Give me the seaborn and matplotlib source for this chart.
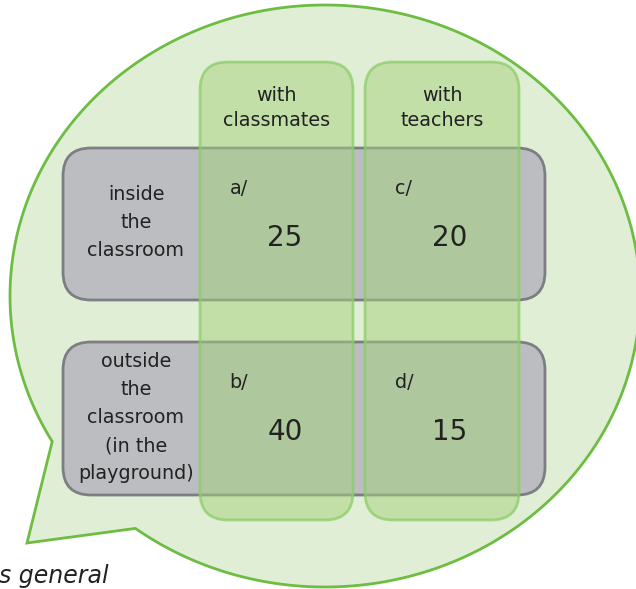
import numpy as np
import matplotlib
matplotlib.use("Agg")
import matplotlib.pyplot as plt
import seaborn as sns
from matplotlib.patches import FancyBboxPatch, Polygon

# data
col_labels = ["with\nclassmates", "with\nteachers"]
row_labels = ["inside\nthe\nclassroom", "outside\nthe\nclassroom\n(in the\nplayground)"]
cell_tags = [["a/", "c/"], ["b/", "d/"]]
cell_values = [[25, 20], [40, 15]]
caption = "s general"

sns.set_theme(style="white")
plt.rcParams["font.family"] = ["DejaVu Sans"]

fig = plt.figure(figsize=(6.36, 5.89), dpi=100)
ax = fig.add_axes([0, 0, 1, 1])
ax.set_xlim(0, 636)
ax.set_ylim(589, 0)
ax.axis("off")

# speech bubble
cx, cy, a, b = 325, 296, 315, 291
theta = np.radians(np.linspace(127, -210, 400))
pts = np.column_stack([cx + a * np.cos(theta), cy + b * np.sin(theta)])
pts = np.vstack([pts, [27, 543]])
ax.add_patch(Polygon(pts, closed=True, facecolor="#e0eed6",
                     edgecolor="#6dbd42", lw=2, zorder=1))

# layout
row_y = [(148, 300), (342, 495)]
col_x = [(200, 353), (365, 519)]
box_left, box_right = 63, 545

for (y0, y1) in row_y:
    ax.add_patch(FancyBboxPatch((box_left, y0), box_right - box_left, y1 - y0,
                                boxstyle="round,pad=0,rounding_size=28",
                                facecolor="#bcbdc1", edgecolor="#7d7e82",
                                lw=2, zorder=2))

for (x0, x1) in col_x:
    ax.add_patch(FancyBboxPatch((x0, 62), x1 - x0, 520 - 62,
                                boxstyle="round,pad=0,rounding_size=28",
                                facecolor=(164 / 255, 210 / 255, 122 / 255, 0.5),
                                edgecolor=(140 / 255, 205 / 255, 105 / 255, 0.75),
                                lw=2, zorder=3))

txt = "#222222"
for j, (x0, x1) in enumerate(col_x):
    ax.text((x0 + x1) / 2, 108, col_labels[j], ha="center", va="center",
            fontsize=13.8, color=txt, linespacing=1.45, zorder=5)

for i, (y0, y1) in enumerate(row_y):
    ax.text(136, (y0 + y1) / 2 - 1, row_labels[i], ha="center", va="center",
            fontsize=13.8, color=txt, linespacing=1.6, zorder=5)
    for j, (x0, x1) in enumerate(col_x):
        ax.text(x0 + 39, y0 + 41, cell_tags[i][j], ha="center", va="center",
                fontsize=13.8, color=txt, zorder=5)
        ax.text(x0 + 85, y0 + 90, str(cell_values[i][j]),
                ha="center", va="center", fontsize=20, color=txt, zorder=5)

ax.text(-1, 583, caption, ha="left", va="baseline", fontsize=17,
        style="italic", color=txt, zorder=5)

fig.savefig("out.png", dpi=100)
